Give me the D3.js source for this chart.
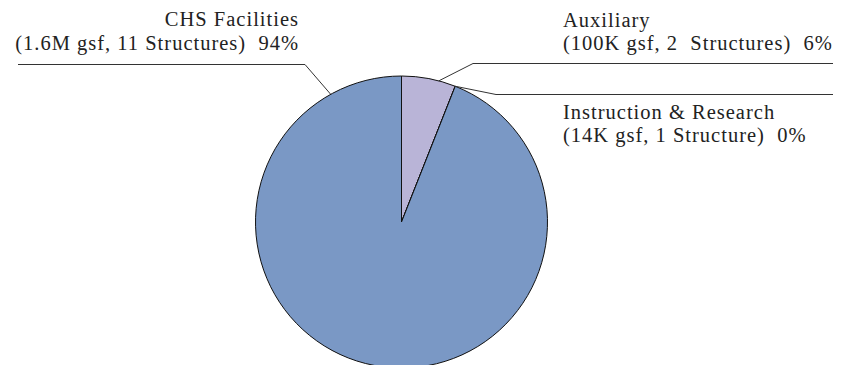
<!DOCTYPE html>
<html>
<head>
<meta charset="utf-8">
<script src="https://cdn.jsdelivr.net/npm/d3@7"></script>
<style>
  html, body { margin: 0; padding: 0; background: #fff; }
  svg { display: block; }
  text { font-family: "Liberation Serif", "DejaVu Serif", serif; fill: #222; }
</style>
</head>
<body>
<svg id="chart" width="847" height="365"></svg>
<script>
// Space by use, share of gross square footage
const categories = ["Auxiliary", "Instruction & Research", "CHS Facilities"];
const details = ["(100K gsf, 2  Structures)", "(14K gsf, 1 Structure)", "(1.6M gsf, 11 Structures)"];
const shares = [6, 0, 94];
const colors = ["#b9b4d7", "#7a98c5", "#7a98c5"];

const W = 847, H = 365;
const cx = 401.5, cy = 222, R = 146;

const svg = d3.select("#chart");
const g = svg.append("g").attr("transform", `translate(${cx},${cy})`);

const data = categories.map((c, i) => ({ name: c, detail: details[i], value: shares[i], color: colors[i] }));

const pie = d3.pie().sort(null).value(d => d.value);
const arcs = pie(data);
const arc = d3.arc().innerRadius(0).outerRadius(R);

g.selectAll("path.slice")
  .data(arcs)
  .join("path")
  .attr("class", "slice")
  .attr("d", arc)
  .attr("fill", d => d.data.color)
  .attr("stroke", "#111")
  .attr("stroke-width", 1);

// Label layout: anchor angle on the rim, elbow and end of the leader, text position
const layout = {
  "Auxiliary": { anchor: a => (a.startAngle + a.endAngle) / 2 + 0.07, elbow: [473, 63.5], end: 833, tx: 563, ty: 26.5, align: "start" },
  "Instruction & Research": { anchor: a => a.startAngle, elbow: [496, 94.5], end: 833, tx: 563, ty: 118.5, align: "start" },
  "CHS Facilities": { anchor: () => -29 * Math.PI / 180, elbow: [305, 64.5], end: 18, tx: 299, ty: 26, align: "end" }
};

const rimPoint = ang => [cx + R * Math.sin(ang), cy - R * Math.cos(ang)];

arcs.forEach(a => {
  const L = layout[a.data.name];
  const p = rimPoint(L.anchor(a));
  svg.append("polyline")
    .attr("points", [p, L.elbow, [L.end, L.elbow[1]]].map(q => q.join(",")).join(" "))
    .attr("fill", "none")
    .attr("stroke", "#333")
    .attr("stroke-width", 1);

  const t = svg.append("text")
    .attr("text-anchor", L.align)
    .attr("font-size", 20.5)
    .attr("letter-spacing", 1);
  t.append("tspan").attr("x", L.tx).attr("y", L.ty).text(a.data.name);
  t.append("tspan").attr("x", L.tx).attr("y", L.ty + 23.5)
    .attr("xml:space", "preserve")
    .style("white-space", "pre")
    .text(`${a.data.detail}  ${a.data.value}%`);
});
</script>
</body>
</html>
